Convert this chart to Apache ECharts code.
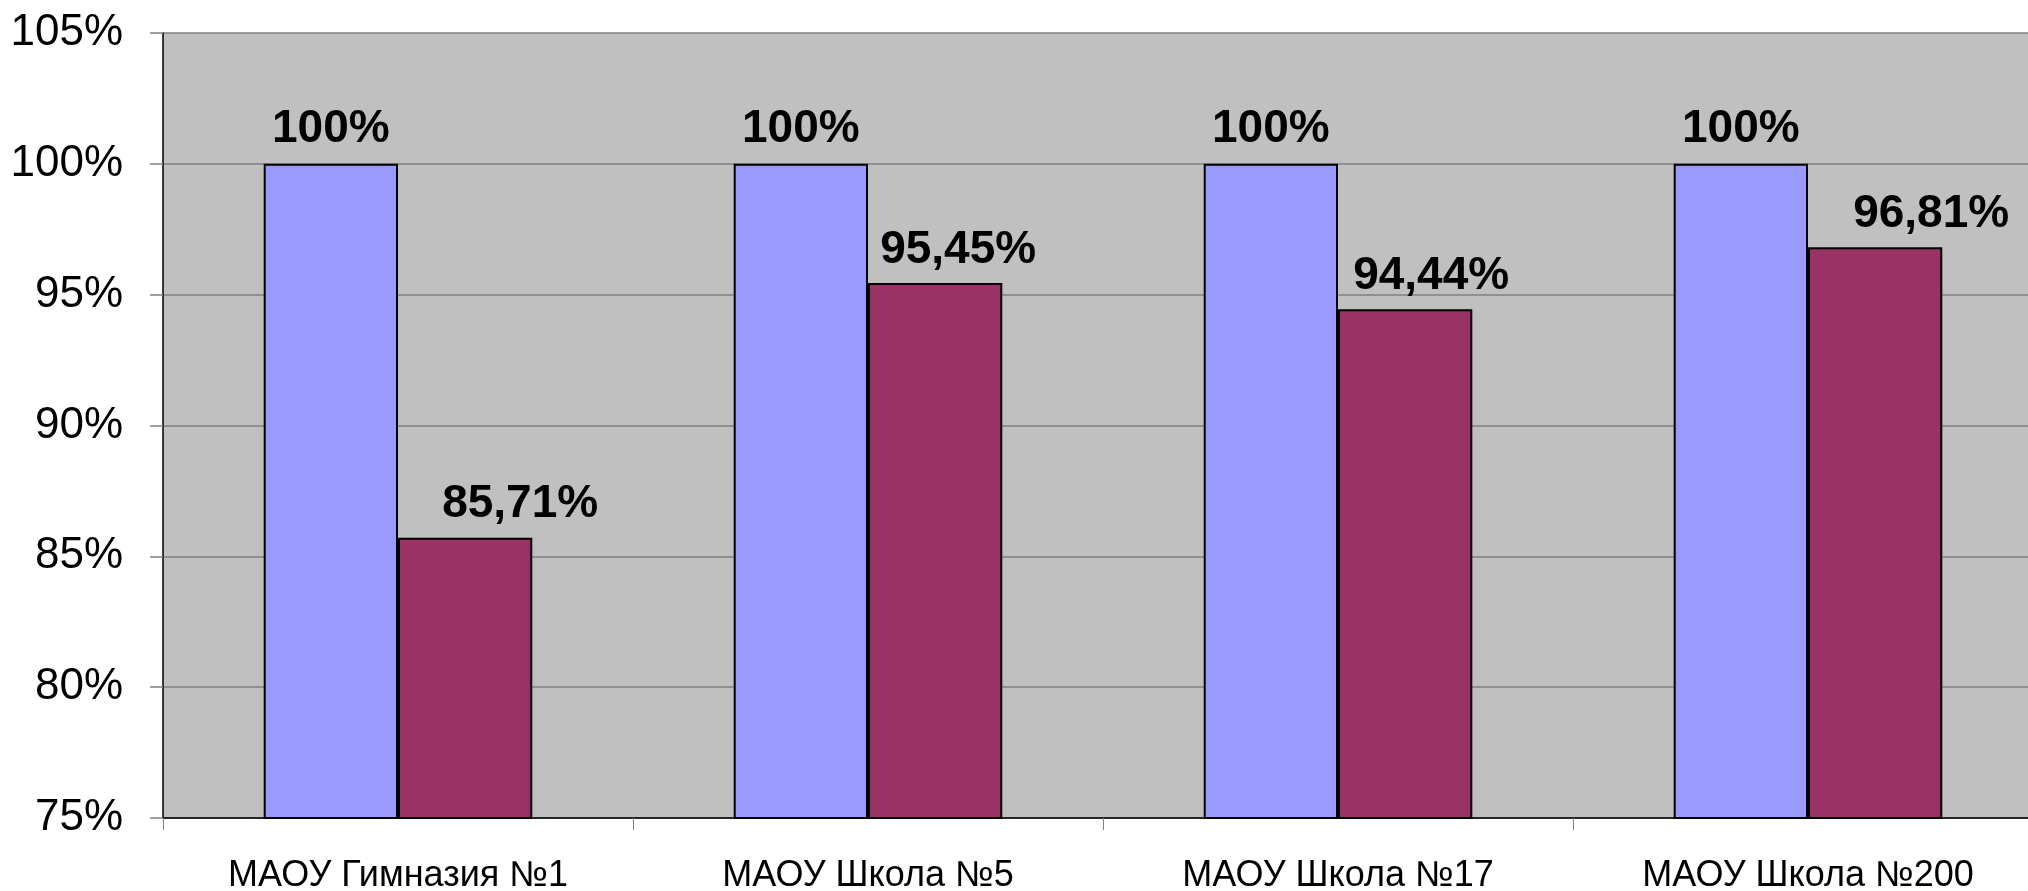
<!DOCTYPE html>
<html>
<head>
<meta charset="utf-8">
<script src="https://cdn.jsdelivr.net/npm/echarts@6/dist/echarts.min.js"></script>
<style>
  html, body { margin: 0; padding: 0; background: #ffffff; }
  #chart { width: 2028px; height: 891px; }
</style>
</head>
<body>
<div id="chart"></div>
<script>
const categories = ['МАОУ Гимназия №1', 'МАОУ Школа №5', 'МАОУ Школа №17', 'МАОУ Школа №200'];
const series1Values = [100, 100, 100, 100];
const series2Values = [85.71, 95.45, 94.44, 96.81];
const yTicks = [75, 80, 85, 90, 95, 100, 105];

function fmt(v) {
  return (Number.isInteger(v) ? String(v) : v.toFixed(2).replace('.', ',')) + '%';
}

const FONT = '"Liberation Sans", Arial, sans-serif';
const redLabelShift = [55, 23, 26, 56];

const chart = echarts.init(document.getElementById('chart'), null, { renderer: 'canvas' });
chart.setOption({
  backgroundColor: '#ffffff',
  animation: false,
  grid: { left: 163, top: 33, right: -15, bottom: 73, outerBoundsMode: 'none', containLabel: false, show: true, backgroundColor: '#C0C0C0', borderWidth: 0 },
  xAxis: {
    type: 'category',
    data: categories,
    axisLine: { show: true, lineStyle: { color: '#000000', width: 1.5 } },
    axisTick: { show: true, length: 12, lineStyle: { color: '#808080', width: 1 } },
    axisLabel: { fontFamily: FONT, fontSize: 36, color: '#000000', margin: 40 },
    splitLine: { show: false }
  },
  yAxis: {
    type: 'value',
    min: yTicks[0],
    max: yTicks[yTicks.length - 1],
    interval: 5,
    axisLine: { show: true, lineStyle: { color: '#000000', width: 1.5 } },
    axisTick: { show: true, length: 13, lineStyle: { color: '#808080', width: 1.5 } },
    axisLabel: { fontFamily: FONT, fontSize: 44, color: '#000000', margin: 40, formatter: v => v + '%' },
    splitLine: { show: true, lineStyle: { color: '#808080', width: 1.5 } }
  },
  series: [
    {
      type: 'bar',
      data: series1Values,
      barGap: '0%',
      barCategoryGap: '42.857%',
      itemStyle: { color: '#9999FF', borderColor: '#000000', borderWidth: 2 },
      label: { show: true, position: 'top', distance: 12, fontFamily: FONT, fontSize: 46, fontWeight: 'bold', color: '#000000', formatter: p => fmt(p.value) }
    },
    {
      type: 'bar',
      data: series2Values.map((v, i) => ({ value: v, label: { offset: [redLabelShift[i], 0] } })),
      barGap: '0%',
      barCategoryGap: '42.857%',
      itemStyle: { color: '#993366', borderColor: '#000000', borderWidth: 2 },
      label: { show: true, position: 'top', distance: 10, fontFamily: FONT, fontSize: 46, fontWeight: 'bold', color: '#000000', formatter: p => fmt(p.value) }
    }
  ]
});
</script>
</body>
</html>
